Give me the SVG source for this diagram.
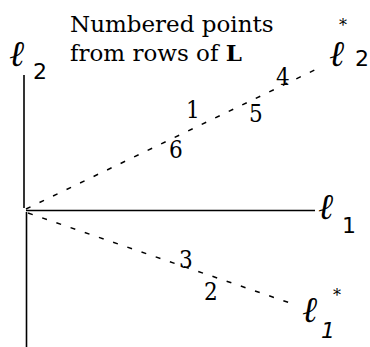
<svg xmlns="http://www.w3.org/2000/svg" width="370" height="347" viewBox="0 0 370 347">
<style>
.axis{stroke:#000;stroke-width:1.6;fill:none}
.dash{stroke:#000;stroke-width:1.5;fill:none;stroke-dasharray:5 10}
.t{font-family:"DejaVu Serif",serif;fill:#000}
.num{font-family:"DejaVu Serif",serif;font-size:24px;fill:#000;font-stretch:condensed}
.ell{font-family:"DejaVu Serif",serif;font-size:36px;font-style:italic;fill:#000}
.sub{font-family:"DejaVu Sans",sans-serif;font-size:22px;fill:#000}
.star{font-family:"DejaVu Serif",serif;font-size:16px;fill:#000}
</style>
<rect width="370" height="347" fill="#fff"/>
<g id="connectors">
<line class="axis" x1="24" y1="75" x2="24" y2="208"/>
<line class="axis" x1="26.5" y1="212" x2="26.5" y2="347"/>
<line class="axis" x1="26" y1="210.5" x2="315" y2="210.5"/>
<line class="dash" x1="26" y1="209" x2="323" y2="66"/>
<line class="dash" x1="28" y1="213" x2="293" y2="304"/>
</g>
<g id="caption">
<text class="t" x="70" y="32" font-size="23">Numbered points</text>
<text class="t" x="70" y="61" font-size="23">from rows of <tspan font-weight="bold">L</tspan></text>
</g>
<g id="l2">
<text class="ell" x="9" y="66">ℓ</text>
<text class="sub" x="33" y="79">2</text>
</g>
<g id="l1">
<text class="ell" x="318" y="219">ℓ</text>
<text class="sub" x="342" y="233">1</text>
</g>
<g id="l2star">
<text class="ell" x="329" y="66">ℓ</text>
<text class="star" x="339" y="31">*</text>
<text class="sub" x="355" y="66">2</text>
</g>
<g id="l1star">
<text class="ell" x="302" y="322">ℓ</text>
<text class="star" x="333" y="301">*</text>
<text class="sub" x="321" y="338" font-style="italic">1</text>
</g>
<g id="points">
<text class="num" x="186" y="118">1</text>
<text class="num" x="204" y="300">2</text>
<text class="num" x="179" y="268">3</text>
<text class="num" x="276" y="85">4</text>
<text class="num" x="249" y="122">5</text>
<text class="num" x="169" y="158">6</text>
</g>
</svg>
